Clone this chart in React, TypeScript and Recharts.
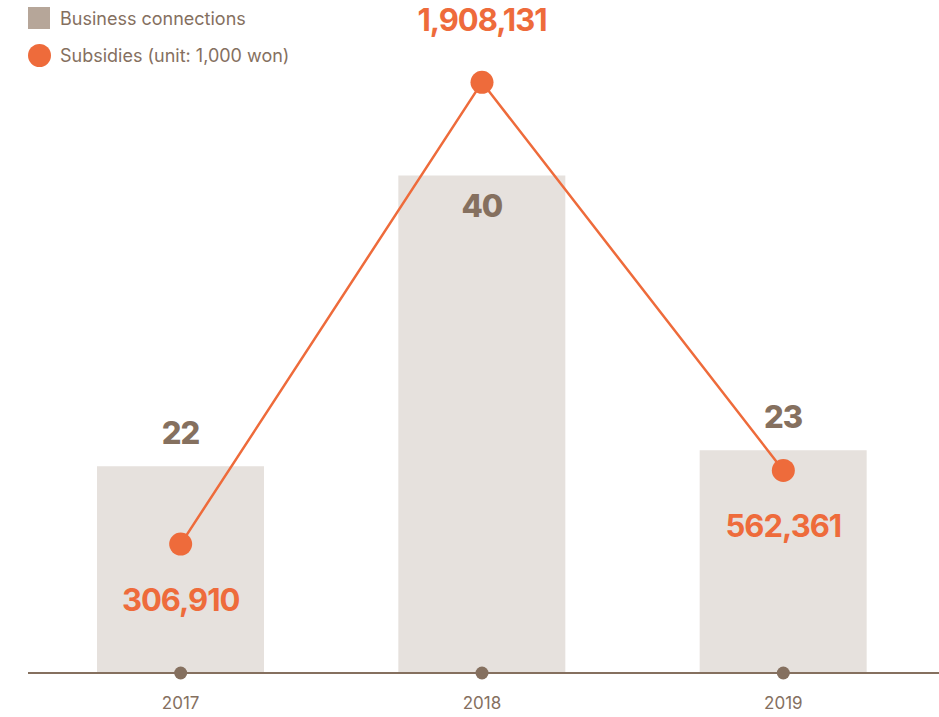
import React from "react"
import { ComposedChart, Bar, Line, XAxis, YAxis, LabelList } from "recharts"

const years = ["2017", "2018", "2019"]
const connections = [22, 40, 23]
const subsidies = [306910, 1908131, 562361]

const data = years.map((year, i) => ({
  year,
  connections: connections[i],
  subsidies: subsidies[i],
}))

const BROWN = "#85705f"
const ORANGE = "#ee6b3b"
const BAR_FILL = "#e6e1dd"
const LEGEND_SQUARE = "#b6a699"
const FONT = "Inter, 'Noto Sans', sans-serif"

const maxConn = Math.max(...connections)
const maxSub = Math.max(...subsidies)

function YearTick(props: any) {
  const { x, y, payload } = props
  return (
    <g>
      <circle cx={x} cy={y} r={6.5} fill={BROWN} />
      <text x={x} y={y + 36} textAnchor="middle" fontSize={17} fill={BROWN} fontFamily={FONT}>
        {payload.value}
      </text>
    </g>
  )
}

function BarValue(props: any) {
  const { x, y, width, value } = props
  const inside = value === maxConn
  return (
    <text
      x={x + width / 2}
      y={inside ? y + 41 : y - 22}
      textAnchor="middle"
      fontSize={31}
      fontWeight={800}
      letterSpacing={-1}
      fill={BROWN}
      fontFamily={FONT}
    >
      {value}
    </text>
  )
}

function LineValue(props: any) {
  const { x, y, value } = props
  const above = value === maxSub
  return (
    <text
      x={x}
      y={above ? y - 51 : y + 67}
      textAnchor="middle"
      fontSize={31}
      fontWeight={700}
      letterSpacing={-1}
      fill={ORANGE}
      fontFamily={FONT}
    >
      {value.toLocaleString("en-US")}
    </text>
  )
}

function ChartLegend() {
  return (
    <div style={{ position: "absolute", left: 28, top: 7, fontFamily: FONT, fontSize: 18, color: BROWN }}>
      <div style={{ display: "flex", alignItems: "center", height: 22 }}>
        <div style={{ width: 22, height: 22, background: LEGEND_SQUARE, marginRight: 10 }} />
        <span>Business connections</span>
      </div>
      <div style={{ display: "flex", alignItems: "center", height: 23, marginTop: 15 }}>
        <div style={{ width: 23, height: 23, borderRadius: "50%", background: ORANGE, marginRight: 9 }} />
        <span>Subsidies (unit: 1,000 won)</span>
      </div>
    </div>
  )
}

export default function App() {
  return (
    <div style={{ position: "absolute", left: 0, top: 0, width: 939, height: 717, background: "#fff" }}>
      <ComposedChart
        width={939}
        height={717}
        data={data}
        margin={{ top: 27, right: 0, left: 28, bottom: 0 }}
      >
        <XAxis
          dataKey="year"
          height={44}
          padding={{ left: 2, right: 5 }}
          axisLine={{ stroke: BROWN, strokeWidth: 2 }}
          tickLine={false}
          tickSize={0}
          tickMargin={0}
          tick={<YearTick />}
          interval={0}
        />
        <YAxis yAxisId="bars" hide domain={[9.2, 49.2]} allowDataOverflow />
        <YAxis yAxisId="line" orientation="right" hide domain={[-140000, 2100000]} allowDataOverflow />
        <Bar yAxisId="bars" dataKey="connections" fill={BAR_FILL} barSize={167} isAnimationActive={false}>
          <LabelList dataKey="connections" content={<BarValue />} />
        </Bar>
        <Line
          yAxisId="line"
          type="linear"
          dataKey="subsidies"
          stroke={ORANGE}
          strokeWidth={2.5}
          dot={{ r: 11.5, fill: ORANGE, stroke: "none" }}
          activeDot={false}
          isAnimationActive={false}
        >
          <LabelList dataKey="subsidies" content={<LineValue />} />
        </Line>
      </ComposedChart>
      <ChartLegend />
    </div>
  )
}
